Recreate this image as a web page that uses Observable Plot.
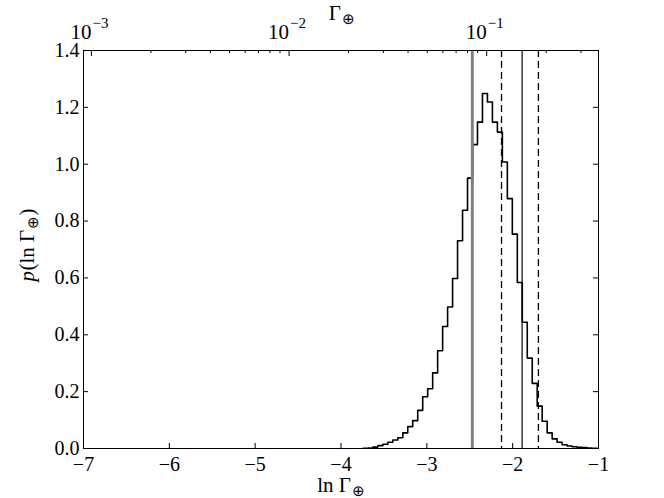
<!DOCTYPE html>
<html><head><meta charset="utf-8">
<script src="https://cdn.jsdelivr.net/npm/d3@7"></script>
<script src="https://cdn.jsdelivr.net/npm/@observablehq/plot@0.6"></script>
<style>body{margin:0;background:#fff}</style>
</head><body><div id="chart"></div>
<script>
// Histogram of ln Gamma (regular bins)
const binStart = -3.744;
const binWidth = 0.058;
const density = [
  0.001, 0.002, 0.005, 0.010, 0.015, 0.022, 0.030, 0.038, 0.055, 0.077, 0.098, 0.134, 0.182,
  0.210, 0.266, 0.344, 0.429, 0.498, 0.598, 0.731, 0.838, 0.951, 1.069, 1.148, 1.249, 1.219,
  1.148, 1.113, 1.008, 0.879, 0.754, 0.584, 0.444, 0.318, 0.229, 0.149, 0.096, 0.055, 0.034,
  0.022, 0.013, 0.009, 0.006, 0.004, 0.003, 0.002, 0.001, 0.001
];
// Vertical reference lines (ln Gamma)
const grayLine = [-2.47];
const dashedLines = [-2.13, -1.70];
const solidLine = [-1.89];
// Axes
const xTicks = [-7, -6, -5, -4, -3, -2, -1];
const xTickLabels = ["−7", "−6", "−5", "−4", "−3", "−2", "−1"];
const yTicks = [0, 0.2, 0.4, 0.6, 0.8, 1.0, 1.2, 1.4];
const yTickLabels = ["0.0", "0.2", "0.4", "0.6", "0.8", "1.0", "1.2", "1.4"];
const topMajor = [0.001, 0.01, 0.1];
const topExponents = ["−3", "−2", "−1"];
const topMinor = [0.002,0.003,0.004,0.005,0.006,0.007,0.008,0.009,
                  0.02,0.03,0.04,0.05,0.06,0.07,0.08,0.09,0.2,0.3];

const W = 664, H = 498, mT = 50, mB = 50, mL = 83, mR = 66;
const innerH = H - mT - mB, innerW = W - mL - mR;
const font = "Liberation Serif";

// step outline
const steps = [{x: binStart, y: 0}];
density.forEach((h, i) => {
  const x0 = binStart + i * binWidth;
  steps.push({x: x0, y: h}, {x: x0 + binWidth, y: h});
});
steps.push({x: binStart + density.length * binWidth, y: 0});

const ylab = {frameAnchor: "left", lineAnchor: "bottom", textAnchor: "start", rotate: -90, fontFamily: font};

const chart = Plot.plot({
  width: W, height: H,
  marginTop: mT, marginBottom: mB, marginLeft: mL, marginRight: mR,
  style: {fontFamily: font, background: "#fff", color: "#000"},
  x: {domain: [-7, -1], axis: null},
  y: {domain: [0, 1.4], axis: null},
  marks: [
    Plot.line(steps, {x: "x", y: "y", stroke: "#000", strokeWidth: 1.6, clip: true}),
    Plot.ruleX(grayLine, {x: d => d, stroke: "#808080", strokeWidth: 3}),
    Plot.ruleX(dashedLines, {x: d => d, stroke: "#000", strokeWidth: 1.3, strokeDasharray: "7,4"}),
    Plot.ruleX(solidLine, {x: d => d, stroke: "#000", strokeWidth: 1.2}),
    // ticks (inward)
    Plot.ruleX(xTicks, {x: d => d, insetTop: innerH - 5, stroke: "#000"}),
    Plot.ruleX(topMajor, {x: d => Math.log(d), insetBottom: innerH - 6, stroke: "#000"}),
    Plot.ruleX(topMinor, {x: d => Math.log(d), insetBottom: innerH - 3, stroke: "#000"}),
    Plot.ruleY(yTicks, {y: d => d, insetRight: innerW - 5, stroke: "#000"}),
    Plot.ruleY(yTicks, {y: d => d, insetLeft: innerW - 5, stroke: "#000"}),
    Plot.frame({stroke: "#000", strokeWidth: 1}),
    // tick labels
    Plot.text(xTicks, {x: d => d, text: (d, i) => xTickLabels[i], frameAnchor: "bottom",
      lineAnchor: "top", dy: 8, fontSize: 20, fontFamily: font}),
    Plot.text(yTicks, {y: d => d, text: (d, i) => yTickLabels[i], frameAnchor: "left",
      textAnchor: "end", lineAnchor: "middle", dx: -4, fontSize: 20, fontFamily: font}),
    Plot.text(topMajor, {x: d => Math.log(d), text: () => "10", frameAnchor: "top",
      lineAnchor: "bottom", textAnchor: "end", dx: 0, dy: -12, fontSize: 21, fontFamily: font}),
    Plot.text(topMajor, {x: d => Math.log(d), text: (d, i) => topExponents[i], frameAnchor: "top",
      lineAnchor: "bottom", textAnchor: "start", dx: 1, dy: -23, fontSize: 15, fontFamily: font}),
    // axis labels
    Plot.text(["ln Γ"], {frameAnchor: "bottom", lineAnchor: "bottom", textAnchor: "end",
      dx: 10, dy: 43, fontSize: 21, fontFamily: font}),
    Plot.text(["⊕"], {frameAnchor: "bottom", lineAnchor: "bottom", textAnchor: "start",
      dx: 11, dy: 47, fontSize: 15, fontFamily: font}),
    Plot.text(["Γ"], {frameAnchor: "top", lineAnchor: "bottom", textAnchor: "end",
      dx: 0, dy: -31, fontSize: 21, fontFamily: font}),
    Plot.text(["⊕"], {frameAnchor: "top", lineAnchor: "bottom", textAnchor: "start",
      dx: 1, dy: -27, fontSize: 15, fontFamily: font}),
    // y label (rotated)
    Plot.text(["p"], {...ylab, dx: -50, dy: 32, fontSize: 21, fontStyle: "italic"}),
    Plot.text(["(ln Γ"], {...ylab, dx: -50, dy: 21, fontSize: 21}),
    Plot.text(["⊕"], {...ylab, dx: -46, dy: -21, fontSize: 15}),
    Plot.text([")"], {...ylab, dx: -50, dy: -34, fontSize: 21})
  ]
});
document.getElementById("chart").appendChild(chart);
</script>
</body></html>
